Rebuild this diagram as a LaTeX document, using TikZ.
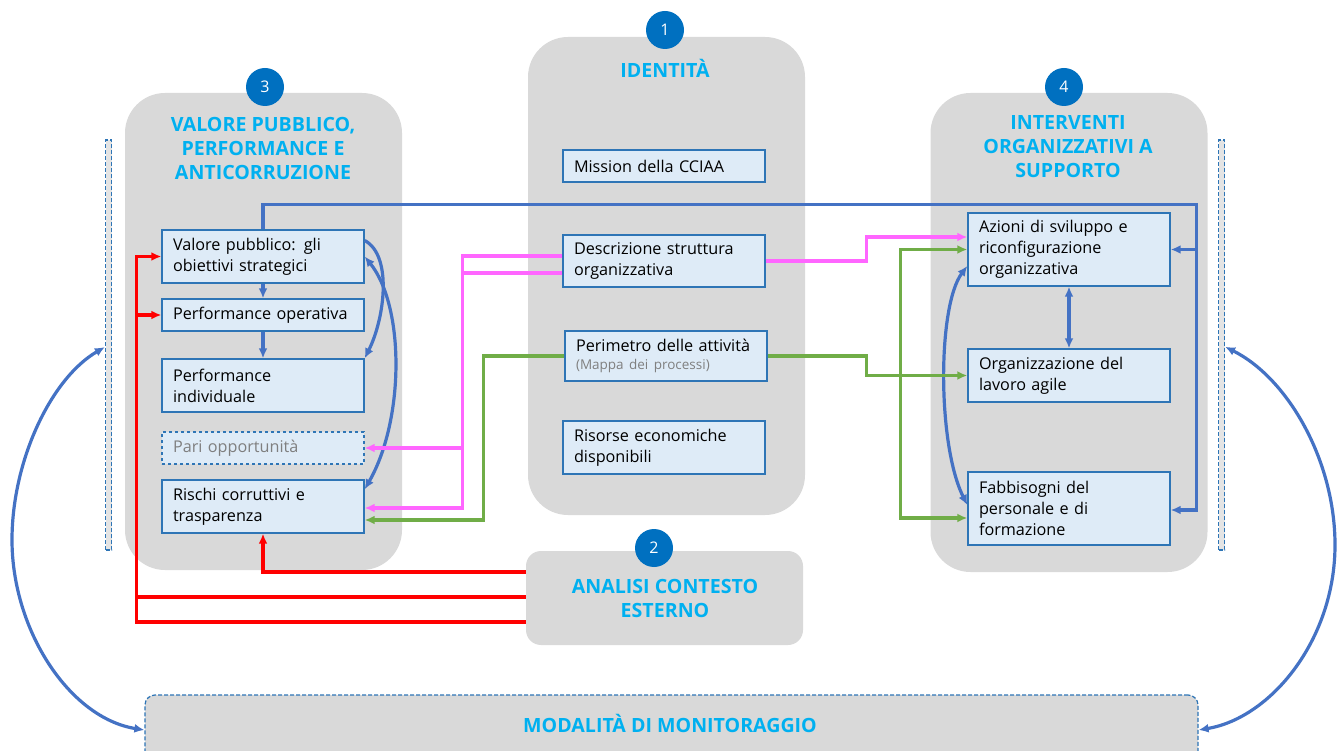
\documentclass[tikz,border=0pt]{standalone}
\usepackage{fontspec}
\setmainfont{Open Sans}
\usetikzlibrary{arrows,arrows.meta}
\usetikzlibrary{shapes}
\usetikzlibrary{backgrounds,positioning}
\usepackage{xcolor}
\definecolor{panelgray}{HTML}{D9D9D9}
\definecolor{numblue}{HTML}{0070C0}
\definecolor{titlecyan}{HTML}{00B0F0}
\definecolor{boxfill}{HTML}{DEEBF7}
\definecolor{boxline}{HTML}{2E75B6}
\definecolor{linkblue}{HTML}{4472C4}
\definecolor{linkred}{HTML}{FF0000}
\definecolor{linkpink}{HTML}{FF66FF}
\definecolor{linkgreen}{HTML}{70AD47}
\definecolor{softgray}{HTML}{7F7F7F}

\begin{document}
\begin{tikzpicture}[x=1pt,y=-1pt,>={Latex[length=10pt,width=9pt]}]
      \tikzstyle{panel}=[fill=panelgray, rounded corners=40pt, minimum width=277pt, inner sep=0pt]
      \tikzstyle{num}=[circle, fill=numblue, text=white, minimum size=38pt, inner sep=0pt, font=\fontsize{16}{19}\selectfont]
      \tikzstyle{title}=[text=titlecyan, align=center, font=\bfseries\fontsize{19.6}{24}\selectfont]
      \tikzstyle{box}=[draw=boxline, fill=boxfill, line width=1.4pt, text width=180pt, inner xsep=11pt, inner ysep=0pt, align=left, font=\fontsize{16.2}{21}\selectfont]
      \tikzstyle{bar}=[draw=boxline, fill=panelgray!70, dash pattern=on 4pt off 2pt, line width=1.2pt, minimum width=6pt, minimum height=410pt, inner sep=0pt]
      \tikzstyle{blu}=[draw=linkblue, line width=3.2pt]
      \tikzstyle{rd}=[draw=linkred, line width=3.2pt]
      \tikzstyle{pk}=[draw=linkpink, line width=3.2pt]
      \tikzstyle{gr}=[draw=linkgreen, line width=3.2pt]

      \useasboundingbox (0,0) rectangle (1342,751);

      % panels
      \node[panel, minimum height=477pt] (p3) at (263.5,331.5) {};
      \node[panel, minimum height=478pt] (p1) at (666.5,276) {};
      \node[panel, minimum height=479pt] (p4) at (1069,332.5) {};
      \node[panel, minimum height=94pt, rounded corners=15pt] (p2) at (664.5,598) {};
      \node[panel, minimum width=1053pt, minimum height=70pt, rounded corners=10pt, draw=boxline, dash pattern=on 4pt off 2pt, line width=1.2pt] (mon) at (671.5,730) {};

      \node[bar] (barL) at (108.5,345) {};
      \node[bar] (barR) at (1221.5,345) {};

      % numbers and titles
      \node[num] (c3) at (265,87) {3};
      \node[num] (c1) at (665,30) {1};
      \node[num] (c4) at (1064,87) {4};
      \node[num] (c2) at (654,548) {2};

      \node[title] (t3) at (263,148) {VALORE PUBBLICO,\\PERFORMANCE E\\ANTICORRUZIONE};
      \node[title] (t1) at (665,68) {IDENTITÀ};
      \node[title] (t4) at (1068,147) {INTERVENTI\\ORGANIZZATIVI A\\SUPPORTO};
      \node[title] (t2) at (665,598) {ANALISI CONTESTO\\ESTERNO};
      \node[title] (tm) at (670,723) {MODALITÀ DI MONITORAGGIO};

      % boxes
      \node[box, minimum height=53pt] (vp) at (263,256.5) {Valore pubblico: gli\\obiettivi strategici};
      \node[box, minimum height=32pt] (po) at (263,315) {Performance operativa};
      \node[box, minimum height=53pt] (pi) at (263,385.5) {Performance\\individuale};
      \node[box, minimum height=32pt, dashed, text=softgray] (pari) at (263,448) {Pari opportunità};
      \node[box, minimum height=53pt] (rischi) at (263,506.5) {Rischi corruttivi e\\trasparenza};

      \node[box, minimum height=32pt] (mission) at (664,166) {Mission della CCIAA};
      \node[box, minimum height=52pt] (descr) at (664,261) {Descrizione struttura\\organizzativa};
      \node[box, minimum height=50pt] (perim) at (666,356) {Perimetro delle attività\\[-3pt]{\fontsize{13.5}{16}\selectfont\color{softgray}(Mappa dei processi)}};
      \node[box, minimum height=53pt] (risorse) at (664,447.5) {Risorse economiche\\disponibili};

      \node[box, minimum height=73pt] (azioni) at (1069,249.5) {Azioni di sviluppo e\\riconfigurazione\\organizzativa};
      \node[box, minimum height=53pt] (lavoro) at (1069,375.5) {Organizzazione del\\lavoro agile};
      \node[box, minimum height=73pt] (fabb) at (1069,508.5) {Fabbisogni del\\personale e di\\formazione};

      % blue links
      \draw[blu,->] (vp) -- (po);
      \draw[blu,->] (po) -- (pi);
      \draw[blu,->] ([yshift=16pt]vp.east) .. controls +(28,15) and +(20,-40) .. (pi.north east);
      \draw[blu,<->] (vp.east) .. controls +(40,50) and +(40,-70) .. ([yshift=-10pt]rischi.north east);
      \draw[blu,->] (vp.north) -- +(0,-25) -| ([xshift=26pt,yshift=-1.5pt]fabb.east) -- ([yshift=-1.5pt]fabb.east);
      \draw[blu,->] ([xshift=26pt]azioni.east) -- (azioni.east);
      \draw[blu,<->] (azioni) -- (lavoro);
      \draw[blu,<->] ([yshift=-16.5pt]azioni.west) .. controls +(-30,40) and +(-30,-60) .. ([yshift=3.5pt]fabb.west);
      \draw[blu,<->] (barL) .. controls +(-57,33) and +(0,-80) .. (12,540) .. controls +(0,90) and +(-75,-12) .. (mon.west);
      \draw[blu,<->] (barR) .. controls +(66,33) and +(0,-85) .. (1335,545) .. controls +(0,95) and +(72,-12) .. (mon.east);

      % red links
      \draw[rd,->] ([yshift=26pt]p2.west) -| (rischi.south);
      \draw[rd] ([yshift=1pt]p2.west) -- +(-389,0);
      \draw[rd,->] ([yshift=-24pt]p2.west) -- +(-389,0) |- (vp.west);
      \draw[rd,->] ([xshift=-25pt]po.west) -- (po.west);

      % pink links
      \draw[pk,->] ([yshift=5pt]descr.west) -- +(-100,0) |- ([yshift=-1.5pt]rischi.east);
      \draw[pk] ([yshift=-12pt]descr.west) -- +(-100,0);
      \draw[pk,->] ([xshift=99pt]pari.east) -- (pari.east);
      \draw[pk,->] (descr.east) -- +(101,0) |- ([yshift=12.5pt]azioni.west);

      % green links
      \draw[gr,->] (perim.west) -- +(-81,0) |- ([yshift=-13.5pt]rischi.east);
      \draw[gr,->] (perim.east) -- +(99,0) |- (lavoro.west);
      \draw[gr,->] ([xshift=-67pt]lavoro.west) |- (azioni.west);
      \draw[gr,->] ([xshift=-67pt]lavoro.west) |- ([yshift=-9.5pt]fabb.west);
    \end{tikzpicture}
\end{document}
